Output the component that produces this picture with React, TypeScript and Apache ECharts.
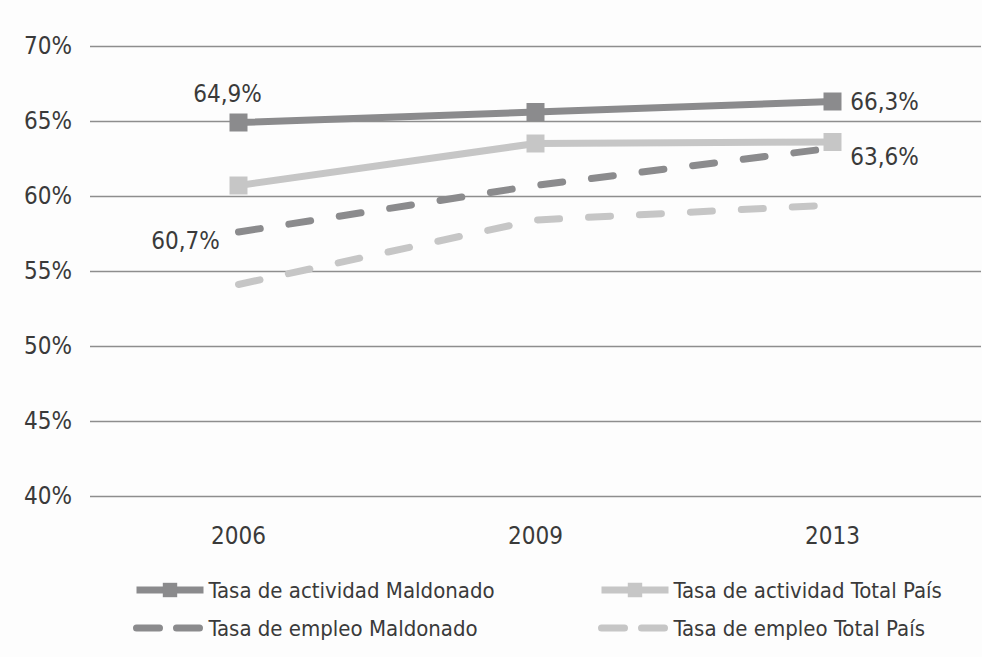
import React, { useEffect, useRef } from "react";
import * as echarts from "echarts";

const categories = ["2006", "2009", "2013"];
const actividadMaldonado = [64.9, 65.6, 66.3];
const actividadTotal = [60.7, 63.5, 63.6];
const empleoMaldonado = [57.6, 60.7, 63.2];
const empleoTotal = [54.1, 58.4, 59.4];
const seriesNames = [
  "Tasa de actividad Maldonado",
  "Tasa de actividad Total País",
  "Tasa de empleo Maldonado",
  "Tasa de empleo Total País",
];

const FONT = "'DejaVu Sans Condensed', 'DejaVu Sans', sans-serif";
const DARK = "#8b8b8d";
const LIGHT = "#c6c6c6";
const TEXT = "#3a3a3a";

const fmt = (v: number) => v.toFixed(1).replace(".", ",") + "%";

export default function App() {
  const ref = useRef<HTMLDivElement>(null);
  useEffect(() => {
    if (!ref.current) return;
    const chart = echarts.init(ref.current, null, { renderer: "svg" });
    const lbl = (offset: number[]) => ({
      show: true,
      position: "inside",
      offset,
      formatter: (p: any) => fmt(p.value),
      color: TEXT,
      fontSize: 24,
      fontFamily: FONT,
    });
    const solidItem = (name: string, color: string) => ({
      name,
      lineStyle: { color, width: 7, type: "solid" },
    });
    const dashItem = (name: string, color: string) => ({
      name,
      itemStyle: { opacity: 0 },
      lineStyle: { color, width: 7, type: [23, 17], cap: "round" },
    });
    const legendCommon = {
      orient: "vertical",
      padding: 0,
      itemWidth: 67,
      itemHeight: 18,
      itemGap: 14,
      height: 120,
      textStyle: { color: TEXT, fontSize: 22, lineHeight: 24, fontFamily: FONT },
    };
    chart.setOption({
      animation: false,
      backgroundColor: "#fdfdfd",
      textStyle: { fontFamily: FONT },
      grid: { left: 90, right: 1, top: 46, bottom: 161 },
      xAxis: {
        type: "category",
        data: categories,
        boundaryGap: true,
        axisLine: { show: false },
        axisTick: { show: false },
        axisLabel: { color: TEXT, fontSize: 24, fontFamily: FONT, margin: 28 },
      },
      yAxis: {
        type: "value",
        min: 40,
        max: 70,
        interval: 5,
        axisLine: { show: false },
        axisTick: { show: false },
        axisLabel: { color: TEXT, fontSize: 24, fontFamily: FONT, margin: 18, formatter: "{value}%" },
        splitLine: { lineStyle: { color: "#8e8e8e", width: 1.3 } },
      },
      legend: [
        {
          ...legendCommon,
          left: 133,
          top: 578,
          data: [solidItem(seriesNames[0], DARK), dashItem(seriesNames[2], DARK)],
        },
        {
          ...legendCommon,
          left: 598,
          top: 578,
          data: [solidItem(seriesNames[1], LIGHT), dashItem(seriesNames[3], LIGHT)],
        },
      ],
      series: [
        {
          name: seriesNames[1],
          type: "line",
          data: actividadTotal.map((v, i) => ({
            value: v,
            label: i === 0 ? lbl([-53, 55]) : i === 2 ? lbl([52, 15]) : { show: false },
          })),
          symbol: "rect",
          symbolSize: 18,
          color: LIGHT,
          lineStyle: { color: LIGHT, width: 7 },
          itemStyle: { color: LIGHT },
          z: 3,
        },
        {
          name: seriesNames[0],
          type: "line",
          data: actividadMaldonado.map((v, i) => ({
            value: v,
            label: i === 0 ? lbl([-11, -29]) : i === 2 ? lbl([52, 0]) : { show: false },
          })),
          symbol: "rect",
          symbolSize: 18,
          color: DARK,
          lineStyle: { color: DARK, width: 7 },
          itemStyle: { color: DARK },
          z: 4,
        },
        {
          name: seriesNames[3],
          type: "line",
          data: empleoTotal,
          symbol: "none",
          color: LIGHT,
          lineStyle: { color: LIGHT, width: 7, type: [22, 29], cap: "round" },
          itemStyle: { color: LIGHT },
          z: 2,
        },
        {
          name: seriesNames[2],
          type: "line",
          data: empleoMaldonado,
          symbol: "none",
          color: DARK,
          lineStyle: { color: DARK, width: 7, type: [22, 29], cap: "round" },
          itemStyle: { color: DARK },
          z: 2,
        },
      ],
    });
    return () => chart.dispose();
  }, []);
  return (
    <div
      ref={ref}
      style={{ position: "fixed", left: 0, top: 0, width: 982, height: 657 }}
    />
  );
}
